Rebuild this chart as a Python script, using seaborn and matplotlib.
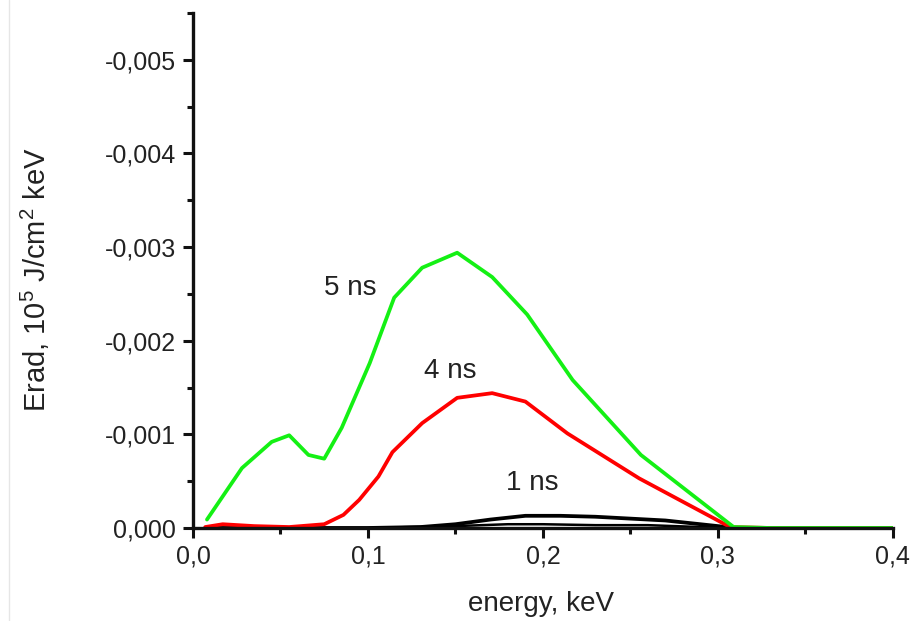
import numpy as np
import pandas as pd
import matplotlib
matplotlib.use("Agg")
import matplotlib.pyplot as plt
import seaborn as sns
from matplotlib.ticker import FixedLocator, FuncFormatter
from matplotlib.lines import Line2D

# ---- data (energy in keV, Erad in 1e5 J/cm^2 keV; negative values) ----
e5 = [0.008, 0.028, 0.045, 0.055, 0.066, 0.075, 0.085, 0.101, 0.115, 0.131, 0.151,
      0.171, 0.191, 0.217, 0.256, 0.309, 0.33, 0.36, 0.40]
v5 = [-0.00009, -0.00064, -0.00092, -0.00099, -0.00078, -0.00074, -0.00107, -0.00176,
      -0.00246, -0.00278, -0.00294, -0.00268, -0.00228, -0.00158, -0.00078, -0.00001,
      0.0, 0.0, 0.0]

e4 = [0.007, 0.017, 0.035, 0.055, 0.075, 0.086, 0.095, 0.106, 0.114, 0.131, 0.151,
      0.171, 0.190, 0.214, 0.255, 0.307, 0.33, 0.36, 0.40]
v4 = [-0.00001, -0.00004, -0.00002, -0.00001, -0.00004, -0.00014, -0.00030, -0.00055,
      -0.00081, -0.00112, -0.00139, -0.00144, -0.00135, -0.00101, -0.00053, -0.00001,
      0.0, 0.0, 0.0]

e1a = [0.007, 0.05, 0.10, 0.13, 0.15, 0.17, 0.19, 0.21, 0.23, 0.25, 0.27, 0.29, 0.31, 0.35, 0.40]
v1a = [0.0, 0.0, 0.0, -0.00001, -0.00004, -0.00009, -0.00013, -0.00013, -0.00012,
       -0.00010, -0.00008, -0.00004, 0.0, 0.0, 0.0]
e1b = [0.007, 0.10, 0.15, 0.18, 0.20, 0.23, 0.26, 0.29, 0.31]
v1b = [0.0, 0.0, -0.00002, -0.00004, -0.00004, -0.00003, -0.00003, -0.00001, 0.0]

labels = ["5 ns", "4 ns", "1 ns"]
label_pos = [(0.0897, -0.00256), (0.147, -0.00168), (0.194, -0.00048)]

xticks = [0.0, 0.1, 0.2, 0.3, 0.4]
yticks = [0.0, -0.001, -0.002, -0.003, -0.004, -0.005]

sns.set_theme(style="ticks")
plt.rcParams["font.family"] = ["Liberation Sans", "DejaVu Sans"]
plt.rcParams["mathtext.fontset"] = "custom"
plt.rcParams["mathtext.rm"] = "Liberation Sans"
plt.rcParams["mathtext.it"] = "Liberation Sans"

fig = plt.figure(figsize=(9.12, 6.21), dpi=100)
ax = fig.add_axes([0.2116, 0.1498, 0.979 - 0.2116, 0.979 - 0.1498])

lw = 2.7
sns.lineplot(x=e1a, y=v1a, ax=ax, color="black", linewidth=lw, sort=False)
sns.lineplot(x=e1b, y=v1b, ax=ax, color="black", linewidth=1.8, sort=False)
sns.lineplot(x=e4, y=v4, ax=ax, color="#ff0000", linewidth=lw, sort=False)
sns.lineplot(x=e5, y=v5, ax=ax, color="#14f014", linewidth=lw, sort=False)

for txt, (x, y) in zip(labels, label_pos):
    ax.text(x, y, txt, fontsize=20, ha="center", va="center", color="#222222")

ax.set_xlim(0.0, 0.4)
ax.set_ylim(0.0, -0.0055)

ax.xaxis.set_major_locator(FixedLocator(xticks))
ax.xaxis.set_minor_locator(FixedLocator([0.05, 0.15, 0.25, 0.35]))
ax.yaxis.set_major_locator(FixedLocator(yticks))
ax.yaxis.set_minor_locator(FixedLocator([-0.0005, -0.0015, -0.0025, -0.0035, -0.0045, -0.0055]))
ax.xaxis.set_major_formatter(FuncFormatter(lambda v, p: f"{v:.1f}".replace(".", ",")))
ax.yaxis.set_major_formatter(FuncFormatter(lambda v, p: f"{v:.3f}".replace(".", ",").replace("-0,000", "0,000")))

for side in ["top", "right"]:
    ax.spines[side].set_visible(False)
for side in ["left", "bottom"]:
    ax.spines[side].set_linewidth(2.4)
    ax.spines[side].set_color("#111111")

ax.tick_params(axis="both", which="major", direction="out", length=7, width=2.2,
               labelsize=18, colors="#111111", labelcolor="#222222", pad=5)
ax.tick_params(axis="both", which="minor", direction="out", length=4.5, width=2.2,
               colors="#111111")

fig.text(541 / 912, 1 - 604 / 621, "energy, keV", fontsize=20, color="#222222",
         ha="center", va="center")
fig.text(35 / 912, 1 - 280 / 621, "Erad, 10$^5$ J/cm$^2$ keV", fontsize=21,
         color="#222222", ha="center", va="center", rotation=90)

fig.add_artist(Line2D([9 / 912, 9 / 912], [0, 1], transform=fig.transFigure,
                      color="#e6e6e6", linewidth=1))

fig.savefig("out.png", dpi=100, facecolor="white")
